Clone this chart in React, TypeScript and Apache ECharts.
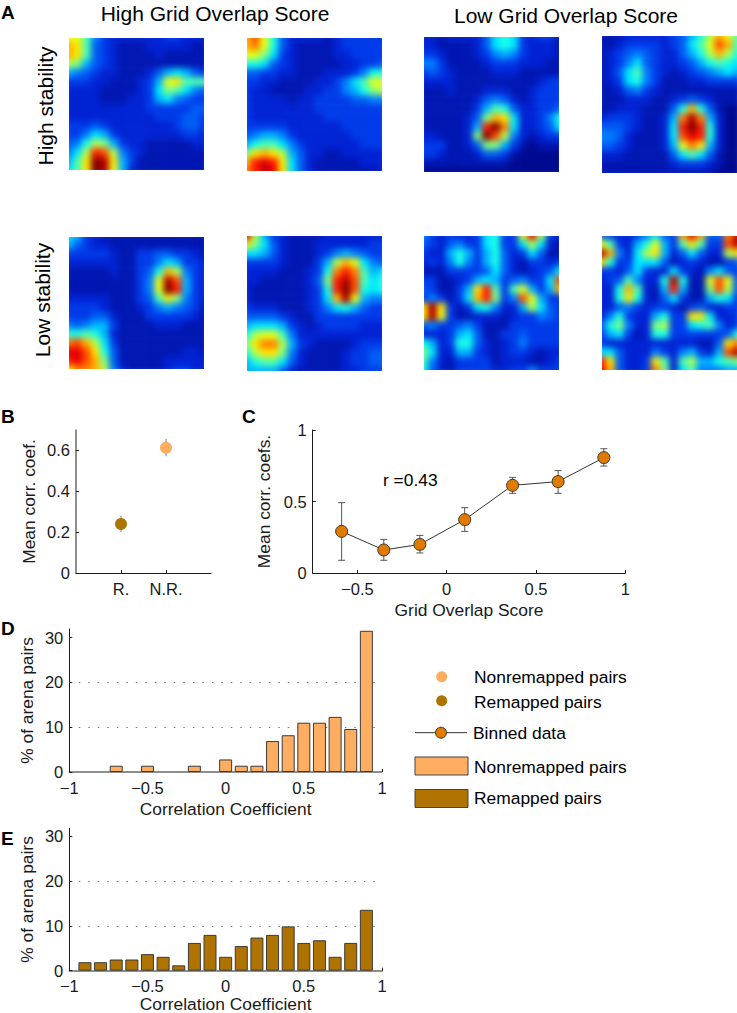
import React, { useEffect, useRef } from "react";
import * as echarts from "echarts";

// Firing-rate maps, 16 x 16 cells, scale 0 to 20
const mapHighHigh1 = [
  [12,12,9,5,3,2,2,2,2,2,2,3,3,2,2,2],
  [14,13,9,4,3,2,1,1,1,2,2,2,2,2,1,1],
  [14,13,9,4,3,2,1,1,1,1,2,1,1,1,1,1],
  [11,10,6,4,3,2,1,1,1,1,1,1,1,1,1,1],
  [6,5,4,3,2,2,1,1,1,2,4,6,7,6,4,3],
  [3,3,3,2,2,1,1,1,2,3,6,12,13,9,9,9],
  [2,2,2,2,1,1,1,1,2,3,7,10,9,7,5,4],
  [2,2,2,2,1,1,1,2,2,3,6,7,5,4,3,3],
  [2,2,2,2,2,2,2,2,2,3,3,3,3,3,4,4],
  [2,2,2,2,2,2,2,2,2,2,3,3,3,4,4,3],
  [3,3,3,4,3,2,2,2,2,2,2,2,3,4,4,3],
  [3,3,5,7,6,3,2,2,2,2,2,2,2,3,3,2],
  [4,5,8,11,10,6,3,2,2,1,1,1,1,1,2,2],
  [5,7,11,17,16,11,5,3,2,1,1,1,1,1,1,1],
  [6,9,13,20,19,13,6,3,1,1,1,1,1,1,1,1],
  [7,9,13,20,19,12,6,2,1,1,1,1,1,1,1,1],
];
const mapHighHigh2 = [
  [14,16,12,8,4,2,2,2,2,1,2,3,3,3,3,3],
  [14,15,12,8,4,2,1,1,1,1,2,3,3,3,3,3],
  [12,12,10,7,3,2,1,1,1,1,2,2,3,3,3,3],
  [8,8,7,4,3,2,1,1,1,1,1,2,2,3,3,4],
  [4,4,3,3,2,2,1,1,1,2,2,2,3,5,8,8],
  [3,3,2,2,1,1,1,1,2,2,3,5,7,9,12,12],
  [3,2,2,1,1,1,1,2,2,3,3,5,6,8,10,11],
  [3,2,2,2,2,1,2,2,3,3,3,3,4,4,5,5],
  [3,2,2,2,2,2,2,2,3,3,3,3,3,3,3,3],
  [3,2,2,2,2,2,2,2,2,3,3,3,3,3,3,3],
  [3,3,3,3,3,2,2,2,2,2,2,3,3,3,3,3],
  [4,5,6,6,5,3,2,2,2,2,2,2,3,3,3,3],
  [6,8,9,9,7,5,3,2,2,2,2,2,2,3,3,3],
  [10,13,14,13,11,6,4,2,2,1,1,2,2,2,2,2],
  [14,17,18,17,13,7,4,2,1,1,1,1,1,2,2,2],
  [15,17,19,18,13,7,4,2,1,1,1,1,1,1,1,2],
];
const mapLowHigh1 = [
  [2,2,1,2,2,2,2,4,7,8,7,3,2,3,3,1],
  [2,2,1,1,1,1,2,4,7,8,7,3,2,2,2,1],
  [3,3,2,1,1,1,2,3,5,6,5,3,2,2,2,1],
  [5,5,3,1,1,1,1,2,3,3,3,2,2,2,1,1],
  [3,4,3,2,1,1,1,1,2,2,2,1,1,1,1,1],
  [2,2,2,2,1,1,1,1,1,1,1,1,1,2,3,3],
  [1,1,1,2,1,1,1,2,2,2,1,1,2,3,3,3],
  [1,1,1,1,1,1,2,4,5,4,2,1,2,3,3,3],
  [1,1,1,1,1,1,3,6,9,8,4,2,2,3,3,4],
  [1,1,1,1,1,2,4,10,14,13,7,2,2,3,5,8],
  [1,1,1,1,1,2,6,17,20,15,7,2,2,3,4,7],
  [2,2,1,1,1,2,10,20,16,11,5,2,1,2,3,3],
  [3,3,3,1,1,2,4,10,10,6,3,1,0,1,1,1],
  [3,3,2,1,1,1,2,4,4,3,1,0,0,0,0,0],
  [1,1,1,1,1,1,1,1,1,1,0,0,0,0,0,0],
  [0,0,0,0,0,0,0,0,0,0,0,0,0,0,0,0],
];
const mapLowHigh2 = [
  [1,1,1,2,2,2,2,2,3,4,6,8,11,14,12,9],
  [1,1,2,3,3,3,3,2,3,4,7,9,12,16,14,9],
  [1,2,3,4,5,4,3,2,2,4,6,8,11,14,11,8],
  [1,2,3,5,7,4,3,2,2,3,4,6,8,9,8,7],
  [1,2,4,7,9,5,3,2,1,2,3,4,5,6,7,6],
  [1,2,3,7,8,5,3,1,1,1,2,2,3,3,3,3],
  [1,1,2,4,5,3,2,1,1,1,1,1,1,1,1,1],
  [1,1,1,2,2,2,1,1,2,3,4,3,2,1,1,1],
  [1,1,2,2,2,1,1,1,4,8,14,8,4,1,0,0],
  [2,3,3,3,2,1,1,2,6,15,19,15,6,2,0,0],
  [4,4,4,3,2,1,1,2,7,17,20,17,8,2,0,0],
  [5,5,4,2,1,1,1,2,7,16,18,17,8,2,0,0],
  [4,4,3,2,1,1,1,2,6,12,15,13,6,2,0,0],
  [2,2,2,1,1,1,1,1,4,7,9,7,4,1,0,0],
  [1,1,1,1,1,1,1,1,2,3,3,3,2,1,0,0],
  [1,1,1,1,1,1,1,1,1,1,1,1,1,0,0,0],
];
const mapHighLow1 = [
  [7,6,3,2,1,1,1,1,1,1,1,1,1,1,1,1],
  [6,4,3,2,2,1,1,1,1,1,1,1,1,1,1,1],
  [3,3,3,3,3,2,1,1,3,3,4,4,3,3,2,1],
  [2,2,2,2,2,2,1,1,3,3,5,7,6,3,3,2],
  [1,1,1,1,1,2,1,1,3,4,8,14,11,5,3,2],
  [1,1,1,1,1,1,1,1,3,5,12,19,16,6,3,2],
  [1,1,1,1,1,1,1,1,3,5,12,20,17,6,3,2],
  [2,2,2,2,2,1,1,1,3,4,9,13,10,5,3,2],
  [3,3,3,3,2,1,1,1,2,3,5,6,5,4,3,1],
  [3,3,3,4,4,2,1,1,1,3,3,3,3,3,2,1],
  [5,4,5,6,6,3,1,1,1,1,2,2,2,1,1,1],
  [8,8,9,8,6,2,1,1,1,1,1,1,1,1,1,1],
  [15,16,14,11,7,3,1,1,1,1,1,1,1,1,1,1],
  [18,18,16,13,8,4,1,1,1,1,1,1,1,2,2,1],
  [17,18,16,14,10,4,1,1,1,1,1,2,2,2,2,2],
  [13,15,15,14,11,5,2,1,1,1,1,2,3,3,2,2],
];
const mapHighLow2 = [
  [18,11,6,3,2,1,1,1,1,2,2,2,2,2,2,2],
  [13,10,7,4,2,1,1,1,2,2,2,2,2,2,3,3],
  [7,7,6,4,2,1,1,1,2,3,5,6,5,4,3,3],
  [3,3,3,3,2,1,1,1,3,6,11,14,12,7,5,4],
  [2,2,2,2,1,1,1,2,3,8,15,17,15,9,6,7],
  [2,2,1,1,1,1,1,2,4,10,17,19,16,9,7,8],
  [2,1,1,1,1,1,1,2,3,8,17,20,16,8,7,8],
  [2,1,1,1,1,1,1,2,3,7,14,19,12,6,5,5],
  [3,2,2,2,1,1,1,2,3,5,7,8,6,4,3,3],
  [4,4,4,4,3,2,1,1,3,3,3,3,3,3,3,3],
  [6,7,7,7,6,3,2,1,2,3,3,3,3,2,2,2],
  [8,11,12,12,9,5,2,2,2,2,2,2,2,2,2,2],
  [10,13,15,15,11,6,3,2,1,1,1,1,2,3,3,3],
  [8,11,13,13,10,5,2,1,1,1,1,2,3,3,4,4],
  [6,8,9,9,7,4,2,1,1,1,1,2,3,3,4,4],
  [6,6,6,6,4,2,1,1,1,1,1,2,2,3,3,3],
];
const mapLowLow1 = [
  [5,3,2,3,2,2,3,7,8,3,3,12,18,11,3,2],
  [4,3,2,4,5,3,3,7,8,3,3,7,11,7,2,1],
  [3,2,2,6,8,6,3,6,8,4,2,3,7,4,1,1],
  [2,3,2,5,8,5,3,6,8,4,2,1,3,3,2,3],
  [1,1,1,3,3,3,3,4,7,4,2,1,2,3,4,7],
  [3,3,1,1,2,3,6,7,6,3,4,5,3,3,7,16],
  [4,3,1,1,3,6,13,17,9,3,9,12,6,3,6,14],
  [3,5,3,1,3,7,14,17,10,3,5,16,12,6,3,3],
  [13,19,13,3,1,3,7,8,5,2,2,6,11,7,4,3],
  [13,19,12,3,1,1,2,2,2,1,2,3,3,5,4,3],
  [4,5,3,3,4,5,3,1,1,1,3,3,3,3,3,3],
  [2,2,2,3,6,7,4,1,1,3,3,4,3,3,3,3],
  [8,6,2,3,8,8,4,2,1,2,3,5,3,3,3,3],
  [10,7,2,2,6,6,3,2,1,2,3,3,2,1,2,2],
  [9,5,2,1,3,3,3,3,1,2,2,2,1,1,2,3],
  [8,4,2,1,3,3,3,3,2,2,3,3,5,3,3,3],
];
const mapLowLow2 = [
  [4,3,2,2,3,5,7,4,3,14,18,14,4,4,15,19],
  [12,9,3,2,6,8,12,6,3,9,13,9,3,3,16,19],
  [19,14,5,2,7,11,13,6,2,4,7,4,2,2,11,13],
  [13,8,3,3,7,7,7,4,1,2,3,2,1,1,3,4],
  [3,3,2,4,7,3,2,2,7,3,2,1,5,7,4,3],
  [2,3,4,9,5,2,2,8,19,8,1,1,12,16,12,4],
  [2,2,8,14,9,2,1,6,17,6,1,1,10,16,11,4],
  [2,2,8,13,8,2,1,4,7,3,1,1,6,8,7,3],
  [2,2,4,5,3,2,3,3,2,1,3,4,2,2,3,3],
  [2,5,8,3,2,2,6,8,3,3,13,13,7,2,2,3],
  [4,8,10,5,2,2,10,11,3,3,7,8,9,5,2,3],
  [3,6,7,3,1,2,8,8,3,3,3,3,3,3,4,8],
  [3,2,2,2,2,2,2,2,2,2,2,1,1,4,13,15],
  [7,7,4,2,2,2,5,3,2,5,6,3,2,6,16,19],
  [17,13,4,2,2,3,13,9,2,9,11,6,6,8,9,10],
  [18,14,4,2,2,3,15,10,2,7,9,5,5,5,6,6],
];
const rateMaps = [mapHighHigh1, mapHighHigh2, mapLowHigh1, mapLowHigh2, mapHighLow1, mapHighLow2, mapLowLow1, mapLowLow2];

// Panel B
const stabilityLabels = ["R.", "N.R."];
const stabilityX = [1, 2];
const stabilityMeans = [0.24, 0.613];
const stabilityLow = [0.2, 0.572];
const stabilityHigh = [0.28, 0.657];
const stabilityTicks = [0, 0.2, 0.4, 0.6];

// Panel C
const overlapX = [-0.588, -0.352, -0.15, 0.101, 0.369, 0.624, 0.88];
const overlapMeans = [0.291, 0.161, 0.2, 0.373, 0.613, 0.639, 0.807];
const overlapLow = [0.089, 0.089, 0.14, 0.291, 0.557, 0.557, 0.748];
const overlapHigh = [0.492, 0.235, 0.263, 0.457, 0.669, 0.716, 0.869];
const overlapXTicks = [-0.5, 0, 0.5, 1];
const overlapYTicks = [0, 0.5, 1];

// Panels D and E
const binCenters = [-0.9,-0.8,-0.7,-0.6,-0.5,-0.4,-0.3,-0.2,-0.1,0,0.1,0.2,0.3,0.4,0.5,0.6,0.7,0.8,0.9];
const nonremappedPct = [0,0,1.4,0,1.4,0,0,1.4,0,2.8,1.4,1.4,6.9,8.2,11,11,12.3,9.6,31.5];
const remappedPct = [1.9,1.9,2.5,2.5,3.7,3.1,1.2,6.2,8,3.1,5.5,7.4,8,9.9,6.2,6.8,3.1,6.2,13.6];
const histXTicks = [-1, -0.5, 0, 0.5, 1];
const histYTicks = [0, 10, 20, 30];

const FONT = '"Liberation Sans", Arial, sans-serif';
const NONREMAPPED = "#ffad60";
const REMAPPED = "#ae7300";
const BINNED = "#e07b00";
const INK = "#1a1a1a";
const TEXT_SIZE = 17.4;

const panelBoxes = [
  [69, 38, 135, 132], [247, 38, 135, 133], [424, 37, 135, 135], [602, 36, 135, 137],
  [69, 237, 135, 132], [247, 236, 135, 135], [424, 236, 135, 134], [602, 236, 135, 134],
];
const BLEED = 5;

const signed = (v: number) => (v < 0 ? "\u2212" + Math.abs(v) : String(v));

function heatOption() {
  const idx = Array.from({ length: 16 }, (_, i) => i);
  return {
    animation: false,
    visualMap: {
      show: false,
      min: 0,
      max: 20,
      seriesIndex: rateMaps.map((_, i) => i),
      inRange: {
        color: ["#000a90", "#0028e4", "#0080ff", "#00ffff", "#80ff80", "#ffff00", "#ff8000", "#ff0000", "#800000"],
      },
    },
    grid: panelBoxes.map(([x, y, w, h]) => ({
      left: x - BLEED, top: y - BLEED, width: w + 2 * BLEED, height: h + 2 * BLEED, outerBoundsMode: "none",
    })),
    xAxis: panelBoxes.map((_, i) => ({ type: "category", gridIndex: i, show: false, data: idx })),
    yAxis: panelBoxes.map((_, i) => ({ type: "category", gridIndex: i, show: false, inverse: true, data: idx })),
    series: rateMaps.map((m, i) => ({
      type: "heatmap",
      xAxisIndex: i,
      yAxisIndex: i,
      data: m.flatMap((row, r) => row.map((v, c) => [c, r, v])),
    })),
  };
}

function errorBars(xIdx: number, color: string, cap: number, width: number, xs: number[], low: number[], high: number[]) {
  return {
    type: "custom",
    xAxisIndex: xIdx,
    yAxisIndex: xIdx,
    coordinateSystem: "cartesian2d",
    z: 2,
    silent: true,
    data: xs.map((x, i) => [x, low[i], high[i]]),
    renderItem: (_: any, api: any) => {
      const a = api.coord([api.value(0), api.value(1)]);
      const b = api.coord([api.value(0), api.value(2)]);
      const style = { stroke: color, lineWidth: width };
      const children: any[] = [{ type: "line", shape: { x1: a[0], y1: a[1], x2: b[0], y2: b[1] }, style }];
      if (cap > 0) {
        children.push({ type: "line", shape: { x1: a[0] - cap, y1: a[1], x2: a[0] + cap, y2: a[1] }, style });
        children.push({ type: "line", shape: { x1: b[0] - cap, y1: b[1], x2: b[0] + cap, y2: b[1] }, style });
      }
      return { type: "group", children };
    },
  };
}

function valueAxis(gridIndex: number, min: number, max: number, ticks: number[], margin: number, extra: any = {}, format: (v: number) => string = signed) {
  return {
    type: "value",
    gridIndex,
    min,
    max,
    axisLine: { show: true, onZero: false, lineStyle: { color: INK, width: 1 } },
    axisTick: { show: true, inside: true, length: 3, customValues: ticks, lineStyle: { color: INK } },
    axisLabel: { show: true, customValues: ticks, formatter: format, color: INK, fontFamily: FONT, fontSize: 16.5, margin, hideOverlap: false },
    splitLine: { show: false },
    nameMoveOverlap: false,
    nameTextStyle: { color: INK, fontFamily: FONT, fontSize: TEXT_SIZE },
    ...extra,
  };
}

const dotted = { show: true, showMinLine: false, showMaxLine: false, lineStyle: { type: [1.5, 8], color: "#777", width: 1 } };
const softAxis = { show: true, onZero: false, lineStyle: { color: "#6a6a6a", width: 1.5 } };

function hist(idx: number, color: string, values: number[]) {
  return {
    type: "bar",
    xAxisIndex: idx,
    yAxisIndex: idx,
    barWidth: 13,
    itemStyle: { color, borderColor: "#3a3a3a", borderWidth: 1 },
    data: binCenters.map((x, i) => [x, values[i]]).filter((d) => d[1] > 0),
  };
}

function label(text: string, x: number, y: number, size: number, extra: any = {}, rotation = 0, bold = false) {
  return {
    type: "text",
    x,
    y,
    rotation,
    style: {
      text, x: 0, y: 0, fill: "#000",
      font: `${bold ? "bold " : ""}${size}px ${FONT}`,
      align: "left", verticalAlign: "middle", ...extra,
    },
  };
}

function mainOption() {
  const center = { align: "center" };
  const xName = (name: string, nameGap: number) => ({ name, nameLocation: "middle", nameGap });
  const yName = (name: string, nameGap: number) => ({ name, nameLocation: "middle", nameGap });
  return {
    animation: false,
    grid: [
      { left: 76, top: 430, width: 135, height: 143, outerBoundsMode: "none" },
      { left: 312.7, top: 430, width: 312.6, height: 143, outerBoundsMode: "none" },
      { left: 69.3, top: 629, width: 312.7, height: 143, outerBoundsMode: "none" },
      { left: 69.3, top: 828.3, width: 312.7, height: 142.4, outerBoundsMode: "none" },
    ],
    xAxis: [
      valueAxis(0, 0, 3, stabilityX, 7, {}, (v) => stabilityLabels[stabilityX.indexOf(v)]),
      valueAxis(1, -0.75, 1, overlapXTicks, 7, xName("Grid Overlap Score", 28)),
      valueAxis(2, -1, 1, histXTicks, 7, { ...xName("Correlation Coefficient", 28), axisLine: softAxis }),
      valueAxis(3, -1, 1, histXTicks, 7, { ...xName("Correlation Coefficient", 24.5), axisLine: softAxis }),
    ],
    yAxis: [
      valueAxis(0, 0, 0.7, stabilityTicks, 6, { ...yName("Mean corr. coef.", 39), axisLine: softAxis }),
      valueAxis(1, 0, 1, overlapYTicks, 6, yName("Mean corr. coefs.", 40)),
      valueAxis(2, 0, 31.9, histYTicks, 6, { ...yName("% of arena pairs", 34), splitLine: dotted }),
      valueAxis(3, 0, 31.8, histYTicks, 6, { ...yName("% of arena pairs", 34), splitLine: dotted }),
    ],
    series: [
      errorBars(0, "#6a6af0", 0, 1, stabilityX, stabilityLow, stabilityHigh),
      {
        type: "scatter",
        xAxisIndex: 0,
        yAxisIndex: 0,
        z: 3,
        symbolSize: 12,
        data: stabilityX.map((x, i) => ({
          value: [x, stabilityMeans[i]],
          itemStyle: { color: i === 0 ? REMAPPED : NONREMAPPED, opacity: 1 },
        })),
      },
      errorBars(1, "#555", 3.5, 1, overlapX, overlapLow, overlapHigh),
      {
        type: "line",
        xAxisIndex: 1,
        yAxisIndex: 1,
        z: 3,
        symbol: "circle",
        symbolSize: 12,
        lineStyle: { color: "#333", width: 1 },
        itemStyle: { color: BINNED, borderColor: "#333", borderWidth: 1 },
        data: overlapX.map((x, i) => [x, overlapMeans[i]]),
      },
      hist(2, NONREMAPPED, nonremappedPct),
      hist(3, REMAPPED, remappedPct),
    ],
    graphic: [
      label("A", 1, 12, 19, {}, 0, true),
      label("B", 1, 416, 19, {}, 0, true),
      label("C", 242, 416, 19, {}, 0, true),
      label("D", 1, 628, 19, {}, 0, true),
      label("E", 1, 838, 19, {}, 0, true),
      label("High Grid Overlap Score", 215, 13, 21, center),
      label("Low Grid Overlap Score", 566, 15, 21, center),
      label("High stability", 45, 106, 21, center, Math.PI / 2),
      label("Low stability", 42, 300, 21, center, Math.PI / 2),
      label("r =0.43", 383, 480, TEXT_SIZE),
      { type: "circle", shape: { cx: 441.7, cy: 676.7, r: 5.5 }, style: { fill: NONREMAPPED } },
      { type: "circle", shape: { cx: 441.7, cy: 700.7, r: 5.5 }, style: { fill: REMAPPED } },
      { type: "line", shape: { x1: 415, y1: 732.7, x2: 467, y2: 732.7 }, style: { stroke: "#333", lineWidth: 1 } },
      { type: "circle", shape: { cx: 441, cy: 732.7, r: 5.5 }, style: { fill: BINNED, stroke: "#333", lineWidth: 1 } },
      { type: "rect", shape: { x: 415, y: 757, width: 53, height: 18 }, style: { fill: NONREMAPPED, stroke: "#444", lineWidth: 1 } },
      { type: "rect", shape: { x: 415, y: 789.5, width: 53, height: 18 }, style: { fill: REMAPPED, stroke: "#444", lineWidth: 1 } },
      label("Nonremapped pairs", 474, 676.7, TEXT_SIZE),
      label("Remapped pairs", 474, 702, TEXT_SIZE),
      label("Binned data", 473, 732.5, TEXT_SIZE),
      label("Nonremapped pairs", 474, 766.5, TEXT_SIZE),
      label("Remapped pairs", 474, 798, TEXT_SIZE),
    ],
  };
}

const clip = panelBoxes.map(([x, y, w, h]) => `M${x} ${y}H${x + w}V${y + h}H${x}Z`).join(" ");

export default function App() {
  const heatRef = useRef<HTMLDivElement>(null);
  const mainRef = useRef<HTMLDivElement>(null);
  useEffect(() => {
    const heat = echarts.init(heatRef.current!, undefined, { renderer: "svg" });
    const main = echarts.init(mainRef.current!, undefined, { renderer: "svg" });
    heat.setOption(heatOption() as any);
    main.setOption(mainOption() as any);
    return () => {
      heat.dispose();
      main.dispose();
    };
  }, []);
  return (
    <div style={{ position: "absolute", left: 0, top: 0, width: 737, height: 1013, overflow: "hidden", background: "#fff" }}>
      <div
        ref={heatRef}
        style={{
          position: "absolute", left: 0, top: 0, width: 760, height: 1013,
          filter: "blur(3px)", clipPath: `path('${clip}')`,
        }}
      />
      <div ref={mainRef} style={{ position: "absolute", left: 0, top: 0, width: 737, height: 1013 }} />
    </div>
  );
}
